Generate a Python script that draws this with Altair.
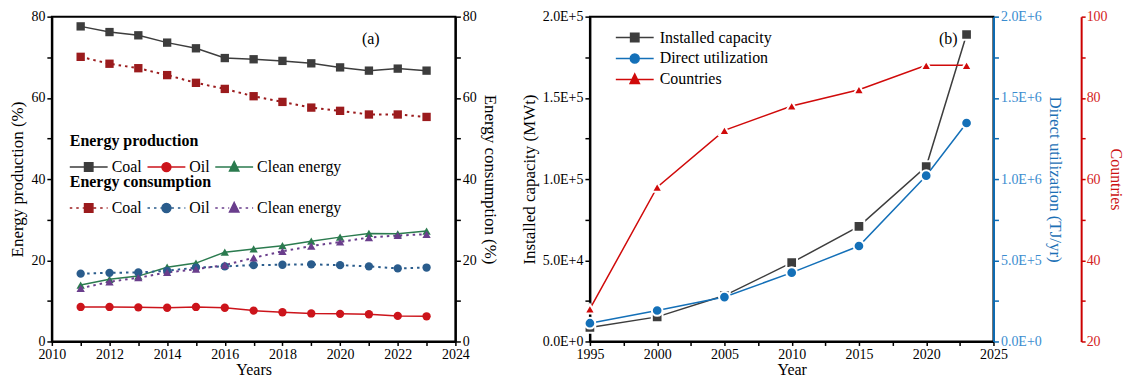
import altair as alt
import pandas as pd

FONT = "Liberation Serif"

# ---------------- Panel (a) data ----------------
years_a = [2011, 2012, 2013, 2014, 2015, 2016, 2017, 2018, 2019, 2020, 2021, 2022, 2023]
prod_coal = [77.6, 76.2, 75.4, 73.6, 72.2, 69.8, 69.5, 69.1, 68.5, 67.5, 66.7, 67.2, 66.7]
prod_oil = [8.5, 8.5, 8.4, 8.3, 8.5, 8.3, 7.6, 7.2, 6.9, 6.8, 6.7, 6.3, 6.2]
prod_clean = [13.9, 15.3, 16.1, 18.3, 19.3, 22.0, 22.8, 23.6, 24.7, 25.7, 26.6, 26.5, 27.2]
cons_coal = [70.1, 68.4, 67.3, 65.6, 63.7, 62.2, 60.4, 59.0, 57.6, 56.8, 55.9, 55.9, 55.3]
cons_oil = [16.7, 16.9, 17.0, 17.4, 18.2, 18.5, 18.8, 18.9, 19.0, 18.8, 18.5, 18.0, 18.2]
cons_clean = [13.1, 14.7, 15.7, 17.0, 17.8, 18.8, 20.6, 22.2, 23.5, 24.5, 25.6, 26.1, 26.4]
series_a = ["Coal", "Oil", "Clean energy"]

# ---------------- Panel (b) data ----------------
years_b = [1995, 2000, 2005, 2010, 2015, 2020, 2023]
installed_mwt = [8664, 15145, 28269, 48493, 70885, 107727, 189000]
direct_tj = [112441, 190699, 273372, 423830, 587786, 1020887, 1345000]
countries = [28, 58, 72, 78, 82, 88, 88]
series_b = ["Installed capacity", "Direct utilization", "Countries"]

prod_colors = ["#3d3d3d", "#cc141b", "#2b7b4f"]
cons_colors = ["#9b1b1d", "#2a5c8c", "#6a3e8c"]
b_colors = ["#3d3d3d", "#1470b8", "#d00a0a"]
shapes = ["square", "circle", "triangle-up"]

# legend glyphs: a line with the marker in its middle (unit = 8 px, symbol size 256)
MARKERS = [
    "M0.725,-0.53H1.775V0.53H0.725Z",
    "M1.81,0A0.56,0.56,0,1,1,0.69,0A0.56,0.56,0,1,1,1.81,0Z",
    "M1.25,-0.68L1.835,0.5H0.665Z",
]
solid_paths = ["M-1.125,0H3.625" + m for m in MARKERS]


def dotted(x0, x1, dash=0.3125, gap=0.5):
    out, x = "", x0
    while x < x1 - 0.05:
        out += "M%.3f,0H%.3f" % (x, min(x + dash, x1))
        x += dash + gap
    return out


dotted_paths = [dotted(-1.125, 0.625) + dotted(1.875, 3.625) + m for m in MARKERS]


def long(years, cols, names):
    rows = []
    for name, vals in zip(names, cols):
        for y, v in zip(years, vals):
            rows.append({"year": y, "value": v, "series": name})
    return pd.DataFrame(rows)


prod_df = long(years_a, [prod_coal, prod_oil, prod_clean], series_a)
cons_df = long(years_a, [cons_coal, cons_oil, cons_clean], series_a)


def legend_layer(df, names, colors, paths, lkw):
    lg = alt.Legend(**lkw)
    return alt.Chart(df).transform_filter("false").mark_point(filled=True, opacity=1).encode(
        fill=alt.Fill("series:N", scale=alt.Scale(domain=names, range=colors), legend=lg),
        stroke=alt.Stroke("series:N", scale=alt.Scale(domain=names, range=colors), legend=lg),
        shape=alt.Shape("series:N", scale=alt.Scale(domain=names, range=paths), legend=lg),
    )


common_leg = dict(
    orient="none", labelFont=FONT, labelFontSize=16, labelColor="black",
    titleFont=FONT, titleFontSize=16, titleFontWeight="bold", titleColor="black",
    symbolSize=256, symbolStrokeWidth=1.5, labelOffset=24, padding=0, symbolOpacity=1,
)
AX = dict(labelFont=FONT, titleFont=FONT, labelFontSize=14, labelFlush=False)
AXX = dict(AX, titleFontSize=16, titlePadding=0, labelPadding=2, tickSize=4)
AXY = dict(AX, titleFontSize=17, titlePadding=4, labelPadding=2, tickSize=5)

xa = alt.X("year:Q", scale=alt.Scale(domain=[2010, 2024], nice=False, zero=False),
           axis=alt.Axis(title="Years", values=list(range(2010, 2025)), format="d",
                         labelExpr="datum.value % 2 == 0 ? datum.label : ''", **AXX))
lbl20 = "datum.value % 20 == 0 ? datum.label : ''"
ya_l = alt.Y("value:Q", scale=alt.Scale(domain=[0, 80], nice=False),
             axis=alt.Axis(title="Energy production (%)", values=list(range(0, 81, 10)), labelExpr=lbl20, **AXY))
ya_r = alt.Y("value:Q", scale=alt.Scale(domain=[0, 80], nice=False),
             axis=alt.Axis(title="Energy consumption (%)", orient="right", values=list(range(0, 81, 10)),
                           labelExpr=lbl20, **AXY))


def group(df, y, colors, dash=None):
    lk = dict(strokeWidth=1.5)
    if dash:
        lk = dict(strokeWidth=2, strokeDash=dash)
    c = alt.Color("series:N", scale=alt.Scale(domain=series_a, range=colors), legend=None)
    s = alt.Shape("series:N", scale=alt.Scale(domain=series_a, range=shapes), legend=None)
    line = alt.Chart(df).mark_line(**lk).encode(x=xa, y=y, color=c)
    pts = alt.Chart(df).mark_point(filled=True, opacity=1, size=70).encode(x=xa, y=y, color=c, shape=s)
    return alt.layer(line, pts)


prod_group = group(prod_df, ya_l, prod_colors)
cons_group = group(cons_df, ya_r, cons_colors, dash=[2.5, 4])
leg_prod = legend_layer(prod_df, series_a, prod_colors, solid_paths,
                        dict(common_leg, title="Energy production", legendX=18, legendY=117,
                             direction="horizontal", columns=3, columnPadding=2, titlePadding=9))
leg_cons = legend_layer(cons_df, series_a, cons_colors, dotted_paths,
                        dict(common_leg, title="Energy consumption", legendX=18, legendY=158,
                             direction="horizontal", columns=3, columnPadding=2, titlePadding=9))

panel_a = alt.layer(prod_group, cons_group, leg_prod, leg_cons).resolve_scale(
    y="independent", color="independent", shape="independent", fill="independent", stroke="independent"
).properties(width=405, height=326,
             title=alt.TitleParams("(a)", anchor="end", frame="group", dx=-76, dy=41,
                                   fontSize=16, fontWeight="normal", font=FONT, color="black"))

# ---------------- Panel (b) ----------------
xb = alt.X("year:Q", scale=alt.Scale(domain=[1995, 2025], nice=False, zero=False),
           axis=alt.Axis(title="Year", values=[1995 + 2.5 * i for i in range(13)], format="d",
                         labelExpr="datum.value % 5 == 0 ? format(datum.value, 'd') : ''", **AXX))


def sci(step):
    e = "floor(log(datum.value)/LN10 + 0.000001)"
    return ("datum.value % " + str(step) + " != 0 ? '' : (datum.value == 0 ? '0.0E+0' : "
            "format(datum.value / pow(10, " + e + "), '.1f') + 'E+' + " + e + ")")


BLUE_AX = "#0b6ab2"
RED_AX = "#cc0000"
y_inst = alt.Y("value:Q", scale=alt.Scale(domain=[0, 200000], nice=False),
               axis=alt.Axis(title="Installed capacity (MWt)", values=list(range(0, 200001, 25000)),
                             labelExpr=sci(50000), **AXY))
y_dir = alt.Y("value:Q", scale=alt.Scale(domain=[0, 2000000], nice=False),
              axis=alt.Axis(title="Direct utilization (TJ/yr)", orient="right",
                            values=list(range(0, 2000001, 250000)), labelExpr=sci(500000),
                            domainColor=BLUE_AX, tickColor=BLUE_AX, labelColor="#3a8ccf",
                            titleColor="#1c70b6", **AXY))
y_cty = alt.Y("value:Q", scale=alt.Scale(domain=[20, 100], nice=False),
              axis=alt.Axis(title="Countries", orient="right", offset=88,
                            values=list(range(20, 101, 10)), labelExpr=lbl20,
                            titlePadding=0, labelPadding=1, tickSize=4, titleFontSize=16,
                            domainColor=RED_AX, tickColor=RED_AX, labelColor="#d42222",
                            titleColor="#cc1111", **AX))

inst_df = long(years_b, [installed_mwt], ["Installed capacity"])
dir_df = long(years_b, [direct_tj], ["Direct utilization"])
cty_df = long(years_b, [countries], ["Countries"])


def group_b(df, y, color, shape):
    line = alt.Chart(df).mark_line(strokeWidth=1.5, color=color).encode(x=xb, y=y)
    pts = alt.Chart(df).mark_point(filled=True, opacity=1, shape=shape, fill=color,
                                   size=115, stroke="white", strokeWidth=2).encode(x=xb, y=y)
    return alt.layer(line, pts)


g_inst = group_b(inst_df, y_inst, b_colors[0], "square")
g_dir = group_b(dir_df, y_dir, b_colors[1], "circle")
g_cty = group_b(cty_df, y_cty, b_colors[2], "triangle-up")
leg_b = legend_layer(pd.concat([inst_df, dir_df, cty_df]), series_b, b_colors, solid_paths,
                     dict(common_leg, title=None, legendX=26, legendY=12, direction="vertical",
                          rowPadding=4, labelOffset=26))

panel_b = alt.layer(g_inst, g_dir, g_cty, leg_b).resolve_scale(
    y="independent", fill="independent", stroke="independent", shape="independent"
).properties(width=405, height=326,
             title=alt.TitleParams("(b)", anchor="end", frame="group", dx=-36, dy=41,
                                   fontSize=16, fontWeight="normal", font=FONT, color="black"))

chart = alt.hconcat(panel_a, panel_b, spacing=20).properties(
    padding={"left": 0, "top": 0, "right": 0, "bottom": 0}
).configure_view(stroke="black", strokeWidth=2).configure_axis(
    grid=False, domainColor="black", domainWidth=2, tickColor="black", tickWidth=1.5,
    labelFont=FONT, labelColor="black",
    titleFont=FONT, titleFontWeight="normal", titleColor="black",
).configure_legend(labelFont=FONT, titleFont=FONT).configure_title(font=FONT)

chart.save("out.html", embed_options={"renderer": "svg", "actions": False})
